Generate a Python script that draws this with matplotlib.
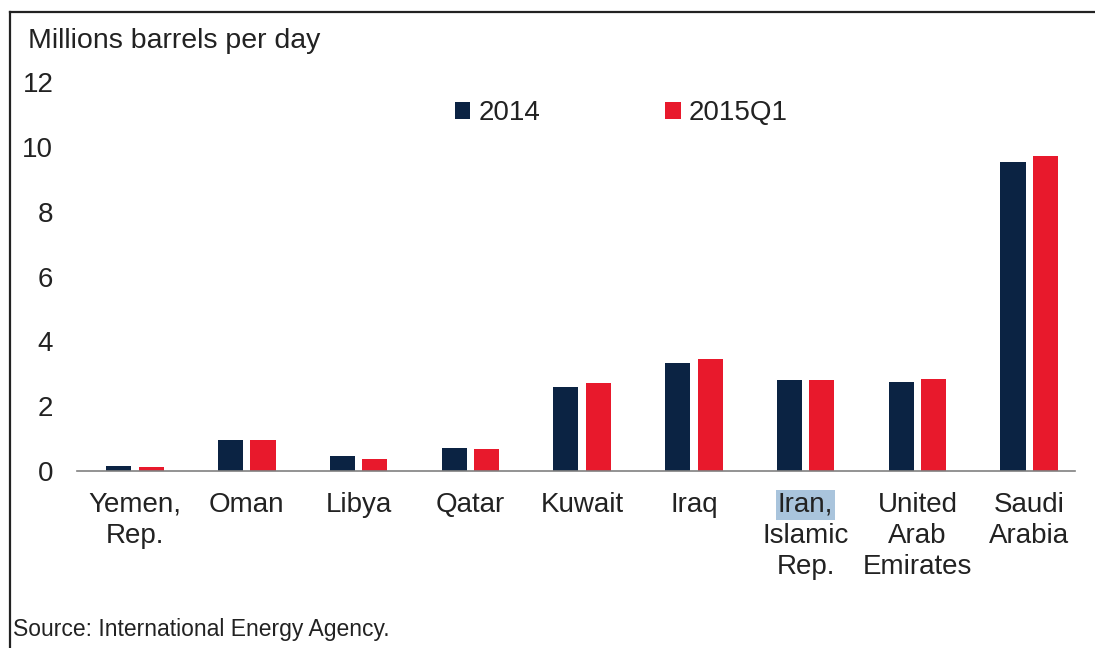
import matplotlib
matplotlib.use('Agg')
import matplotlib.pyplot as plt
from matplotlib.lines import Line2D
import numpy as np

plt.rcParams['font.family'] = ['Liberation Sans', 'DejaVu Sans']

# Данные (млн баррелей в сутки)
countries = ['Yemen,\nRep.', 'Oman', 'Libya', 'Qatar', 'Kuwait', 'Iraq',
             'Iran,\nIslamic\nRep.', 'United\nArab\nEmirates', 'Saudi\nArabia']
series_2014 = [0.15, 0.96, 0.46, 0.71, 2.60, 3.33, 2.81, 2.76, 9.54]
series_2015q1 = [0.12, 0.95, 0.37, 0.68, 2.70, 3.46, 2.81, 2.83, 9.72]
highlight = 'Iran,'

navy = '#0b2343'
red = '#e8192c'
text_color = '#222222'

fig = plt.figure(figsize=(10.95, 6.48), dpi=100)
ax = fig.add_axes([0.0703, 0.2731, 0.9114, 0.6004])

x = np.arange(len(countries))
w = 0.225
ax.bar(x - 0.145, series_2014, width=w, color=navy, label='2014')
ax.bar(x + 0.145, series_2015q1, width=w, color=red, label='2015Q1')

ax.set_xlim(-0.52, 8.41)
ax.set_ylim(0, 12)
ax.set_yticks(range(0, 13, 2))

# подпись Ирана рисуется отдельно, чтобы подсветить первую строку
labels = ['' if c.startswith(highlight) else c for c in countries]
ax.set_xticks(x)
ax.set_xticklabels(labels, linespacing=1.25)
pad = 15
line_step = 22.3  # шаг строк, pt
ax.tick_params(axis='x', length=0, pad=pad, labelsize=20, labelcolor=text_color)
ax.tick_params(axis='y', length=0, pad=17, labelsize=20, labelcolor=text_color)
for i, c in enumerate(countries):
    if c.startswith(highlight):
        first, rest = c.split('\n', 1)
        ax.annotate(first, xy=(i, 0), xycoords=('data', 'axes fraction'),
                    xytext=(0, -pad), textcoords='offset points',
                    ha='center', va='top', fontsize=20, color=text_color,
                    annotation_clip=False,
                    bbox=dict(boxstyle='square,pad=0.06', fc='#a9c4dc', ec='none'))
        ax.annotate(rest, xy=(i, 0), xycoords=('data', 'axes fraction'),
                    xytext=(0, -pad - line_step), textcoords='offset points',
                    ha='center', va='top', fontsize=20, color=text_color,
                    linespacing=1.25, annotation_clip=False)

for s in ['top', 'right', 'left']:
    ax.spines[s].set_visible(False)
ax.spines['bottom'].set_color('#808080')
ax.spines['bottom'].set_linewidth(1.2)

leg = ax.legend(loc='center left', bbox_to_anchor=(0.4155, 0.8256),
                bbox_transform=fig.transFigure, ncol=2, frameon=False,
                fontsize=20, handlelength=0.55, handleheight=0.55,
                handletextpad=0.3, columnspacing=4.5, borderpad=0,
                borderaxespad=0)
for t in leg.get_texts():
    t.set_color(text_color)

fig.text(0.026, 1 - 48 / 648, 'Millions barrels per day', fontsize=20.5,
         color=text_color, va='baseline', ha='left')
fig.text(0.012, 1 - 636 / 648, 'Source: International Energy Agency.',
         fontsize=16.5, color=text_color, va='baseline', ha='left')

# рамка: только сверху и слева
fig.add_artist(Line2D([0.0092, 1.0], [1 - 12 / 648, 1 - 12 / 648],
                      transform=fig.transFigure, color='#222222', lw=1.6))
fig.add_artist(Line2D([0.0092, 0.0092], [0.0, 1 - 12 / 648],
                      transform=fig.transFigure, color='#222222', lw=1.6))

fig.savefig('out.png', dpi=100)
